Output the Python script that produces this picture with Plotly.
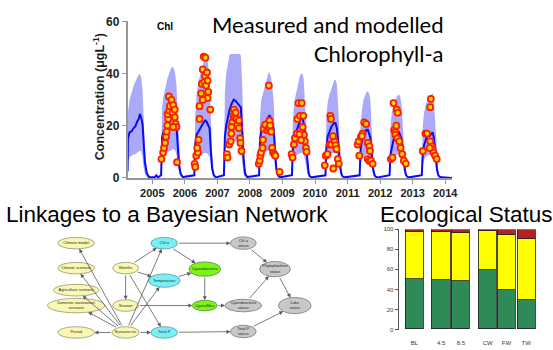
import math
import plotly.graph_objects as go

# ------------------------------------------------------------------
# DATA : modelled chlorophyll-a (median line + uncertainty band), per bloom season
# ------------------------------------------------------------------
bloom_t = [
    [2004.24, 2004.25, 2004.30, 2004.36, 2004.42, 2004.48, 2004.53, 2004.58, 2004.62, 2004.66, 2004.70, 2004.73, 2004.77, 2004.83, 2004.90],
    [2005.27, 2005.30, 2005.34, 2005.40, 2005.46, 2005.52, 2005.57, 2005.62, 2005.66, 2005.70, 2005.74, 2005.78, 2005.82, 2005.87, 2005.94],
    [2006.29, 2006.32, 2006.36, 2006.42, 2006.48, 2006.54, 2006.59, 2006.63, 2006.67, 2006.71, 2006.76, 2006.80, 2006.84, 2006.89, 2006.95],
    [2007.20, 2007.23, 2007.27, 2007.32, 2007.38, 2007.44, 2007.50, 2007.56, 2007.62, 2007.67, 2007.72, 2007.76, 2007.80, 2007.85, 2007.92],
    [2008.28, 2008.31, 2008.35, 2008.41, 2008.47, 2008.52, 2008.56, 2008.60, 2008.64, 2008.68, 2008.73, 2008.77, 2008.81, 2008.86, 2008.92],
    [2009.29, 2009.32, 2009.36, 2009.42, 2009.48, 2009.53, 2009.57, 2009.61, 2009.65, 2009.69, 2009.73, 2009.76, 2009.80, 2009.84, 2009.90],
    [2010.32, 2010.35, 2010.39, 2010.44, 2010.50, 2010.55, 2010.59, 2010.63, 2010.67, 2010.71, 2010.74, 2010.77, 2010.81, 2010.85, 2010.91],
    [2011.37, 2011.40, 2011.44, 2011.49, 2011.54, 2011.58, 2011.62, 2011.66, 2011.70, 2011.73, 2011.76, 2011.79, 2011.83, 2011.87, 2011.93],
    [2012.29, 2012.32, 2012.36, 2012.41, 2012.47, 2012.53, 2012.58, 2012.62, 2012.66, 2012.70, 2012.73, 2012.76, 2012.80, 2012.84, 2012.90],
    [2013.28, 2013.31, 2013.35, 2013.40, 2013.46, 2013.52, 2013.57, 2013.61, 2013.65, 2013.69, 2013.72, 2013.75, 2013.79, 2013.83, 2013.89],
]
bloom_model = [
    [2.5, 15, 17.5, 17.8, 19, 19.8, 21.5, 22.5, 24.5, 23, 20.5, 13, 6, 1.8, 0.3],
    [1, 15.5, 17.5, 18.5, 20, 21.5, 22.5, 23.5, 24, 22.5, 20, 12, 5, 1.5, 0.3],
    [1, 13, 16.5, 18, 19, 20.5, 21.5, 22, 21.5, 20.5, 19, 10, 3.5, 1, 0.2],
    [1, 16, 20, 23.5, 26.5, 28.5, 30, 29.5, 28.5, 28, 27, 18, 8, 1.5, 0.3],
    [1, 15, 18, 19.5, 20.5, 22, 23, 24, 23, 21.5, 18.5, 10, 3.5, 1, 0.2],
    [1, 12, 15.5, 17.5, 20, 21.5, 23, 23.5, 21, 17, 11, 6, 2, 0.6, 0.2],
    [1, 12, 16, 18, 19.5, 20.5, 21, 21, 19, 14, 8, 4.5, 1.5, 0.5, 0.2],
    [1, 11, 14, 16, 17.5, 18.5, 18.5, 17, 15.5, 11, 6, 3, 1, 0.4, 0.2],
    [1, 9, 12, 14.5, 16.5, 17.5, 17.5, 16.5, 15, 10.5, 6, 3, 1, 0.4, 0.2],
    [1, 9, 12.5, 14.5, 16.5, 16, 17, 17.5, 15.5, 11, 6, 3, 1, 0.4, 0.2],
]
bloom_upper = [
    [14, 25, 30, 33, 35, 37, 38.5, 39.5, 39.8, 38.5, 33, 24, 12, 3, 0.5],
    [6, 27, 31, 35, 38, 40, 42, 42.5, 42, 40, 36, 25, 12, 3, 0.3],
    [6, 24, 32, 37, 40, 43, 45.5, 46.5, 46.5, 44, 37, 24, 9, 2, 0.3],
    [5, 33, 40, 44, 47.5, 47.5, 47.5, 47.5, 47.5, 47.5, 47, 36, 18, 4, 0.5],
    [6, 24, 30, 33, 36, 38, 40, 40.5, 39, 36, 29, 15, 5, 1, 0.2],
    [5, 22, 29, 33, 37, 39, 40, 40, 38, 30, 20, 11, 4, 1, 0.2],
    [5, 24, 29, 32, 34, 36, 37.5, 37.5, 36, 28, 18, 10, 3, 0.8, 0.2],
    [5, 20, 26, 30, 31.5, 33, 33, 32.5, 30, 22, 13, 6, 2, 0.5, 0.2],
    [5, 20, 25, 28, 30, 31.5, 32, 31, 28, 21, 13, 6, 2, 0.5, 0.2],
    [5, 20, 25, 28, 30, 31, 32, 32.5, 30, 22, 13, 6, 2, 0.5, 0.2],
]
bloom_lower = [
    [2, 6, 8, 8.5, 9, 9.2, 9.5, 10, 10.5, 10, 8, 4, 1.5, 0.3, 0],
    [1, 7, 9, 9.5, 10, 10, 10.5, 11, 11, 10.5, 9, 5, 2, 0.5, 0],
    [1, 5, 7, 8, 8.5, 9, 9.5, 9.5, 9.5, 9, 8, 4.5, 1.5, 0.3, 0],
    [1, 9, 12, 13, 13.5, 14, 14, 14, 13.5, 13, 12, 6, 2, 0.3, 0],
    [1, 7, 9, 9.5, 10, 10, 10.5, 10.5, 10, 9.5, 8, 4, 1.5, 0.3, 0],
    [1, 6, 8, 8.5, 9, 9.5, 9.5, 9.5, 9, 7, 4.5, 2, 0.6, 0.2, 0],
    [1, 6, 8, 9, 9, 9.5, 9.5, 9.5, 9, 7, 4, 2, 0.5, 0.2, 0],
    [1, 5, 7, 8, 8.5, 9, 9, 8.5, 8, 6, 3.5, 1.5, 0.4, 0.1, 0],
    [1, 5, 7, 8, 8.5, 9, 9, 8.5, 8, 6, 3.5, 1.5, 0.4, 0.1, 0],
    [1, 5, 7, 8, 8.5, 9, 9, 8.5, 8, 6, 3.5, 1.5, 0.4, 0.1, 0],
]
offseason_t = [2005.07, 2005.12, 2005.17, 2014.21]
offseason_v = [0.2, 1.0, 0.2, 0.0]

# measured chlorophyll-a
meas_t = [
    2005.28, 2005.33, 2005.36, 2005.39, 2005.42, 2005.44, 2005.46, 2005.49, 2005.47, 2005.52, 2005.54, 2005.51,
    2005.59, 2005.64, 2005.62, 2005.69, 2005.69, 2005.72, 2005.74, 2005.64, 2005.76,
    2006.30, 2006.32, 2006.35, 2006.40, 2006.38, 2006.42, 2006.45, 2006.45, 2006.50, 2006.52, 2006.55, 2006.58,
    2006.63, 2006.60, 2006.62, 2006.65, 2006.68, 2006.70, 2006.72, 2006.70, 2006.78, 2006.55,
    2007.29, 2007.31, 2007.36, 2007.41, 2007.43, 2007.46, 2007.49, 2007.51, 2007.53, 2007.56, 2007.59, 2007.61,
    2007.66, 2007.66, 2007.70, 2007.71, 2007.74, 2007.43,
    2008.27, 2008.30, 2008.32, 2008.34, 2008.39, 2008.40, 2008.42, 2008.47, 2008.53, 2008.58, 2008.58, 2008.60,
    2008.62, 2008.65, 2008.68, 2008.71, 2008.75, 2008.78, 2008.91,
    2009.28, 2009.31, 2009.35, 2009.38, 2009.44, 2009.46, 2009.49, 2009.59, 2009.54, 2009.64, 2009.62, 2009.66,
    2009.69, 2009.72, 2009.74, 2009.52, 2009.57,
    2010.30, 2010.33, 2010.38, 2010.47, 2010.49, 2010.45, 2010.50, 2010.60, 2010.63, 2010.70, 2010.73, 2010.56,
    2010.55, 2010.66,
    2011.31, 2011.34, 2011.36, 2011.41, 2011.46, 2011.51, 2011.57, 2011.62, 2011.67, 2011.62, 2011.67, 2011.72,
    2011.77, 2011.69, 2011.44,
    2012.33, 2012.38, 2012.43, 2012.46, 2012.47, 2012.53, 2012.59, 2012.63, 2012.68, 2012.73, 2012.79, 2012.41,
    2012.51, 2012.54, 2012.50,
    2013.31, 2013.39, 2013.44, 2013.54, 2013.59, 2013.61, 2013.64, 2013.69, 2013.74, 2013.56, 2013.54, 2013.52,
]
meas_v = [
    7.2, 9.7, 11.5, 13.4, 15.8, 17.7, 20.1, 22.6, 24.4, 25.7, 27.5, 31.2,
    29.9, 27.9, 25.0, 26.2, 23.2, 20.7, 19.5, 19.5, 6.0,
    5.4, 4.2, 8.5, 9.7, 11.5, 14.6, 22.6, 27.5, 32.4, 36.1, 41.6, 46.5,
    46.1, 36.7, 39.1, 35.4, 40.4, 37.3, 33.0, 30.6, 26.2, 29.9,
    9.1, 7.8, 12.8, 14.0, 17.0, 21.3, 23.8, 26.2, 23.2, 25.0, 22.6, 20.1,
    22.0, 19.1, 15.2, 13.4, 10.3, 19.5,
    5.4, 6.6, 8.5, 9.7, 11.5, 14.6, 18.9, 20.4, 18.3, 35.4, 19.1, 22.0,
    20.1, 17.7, 11.5, 9.7, 9.1, 8.5, 2.3,
    9.1, 7.8, 12.8, 15.2, 17.0, 22.6, 28.7, 28.7, 23.8, 23.8, 19.5, 16.5,
    14.0, 11.5, 10.0, 16.7, 14.5,
    4.8, 8.5, 9.1, 23.8, 22.6, 12.8, 12.8, 14.0, 12.5, 7.2, 5.4, 3.6,
    16.0, 11.0,
    12.8, 14.0, 8.5, 15.8, 17.0, 21.3, 20.7, 13.4, 12.1, 7.2, 6.5, 6.6,
    5.4, 10.3, 16.0,
    7.2, 7.8, 18.3, 17.5, 16.5, 15.2, 14.0, 11.5, 9.1, 6.6, 5.5, 28.7,
    26.2, 25.0, 20.0,
    10.3, 17.0, 17.0, 14.0, 12.1, 10.9, 9.7, 8.5, 7.2, 30.3, 27.1, 11.5,
]
year_ticks = [2005, 2006, 2007, 2008, 2009, 2010, 2011, 2012, 2013, 2014]
conc_ticks = [0, 20, 40, 60]

# ------------------------------------------------------------------
# DATA : Bayesian network
# ------------------------------------------------------------------
node_ids = ["cm", "cs", "ag", "dw", "per", "mon", "sea", "scn", "chl", "tmp", "tp",
            "cya", "cmx", "chls", "phy", "cyas", "lake", "tps"]
node_labels = ["Climate model", "Climate scenario", "Agriculture scenario",
               "Domestic wastewater<br>scenario", "Period", "Months", "Season", "Scenario no.",
               "Chl a", "Temperature", "Total P", "Cyanobacteria", "CyanoMax",
               "Chl a<br>status", "Phytoplankton<br>status", "Cyanobacteria<br>status",
               "Lake<br>status", "Total P<br>status"]
node_kind = ["scen", "scen", "scen", "scen", "scen", "scen", "scen", "scen",
             "obs", "obs", "obs", "cyano", "cyano",
             "stat", "stat", "stat", "stat", "stat"]
edges = [
    ("scn", "cm"), ("scn", "cs"), ("scn", "ag"), ("scn", "dw"), ("scn", "per"),
    ("scn", "chl"), ("scn", "tmp"), ("scn", "tp"),
    ("mon", "chl"), ("mon", "tmp"), ("mon", "sea"), ("mon", "tp"),
    ("sea", "cmx"), ("chl", "chls"), ("chl", "cya"), ("tmp", "cya"), ("cya", "cmx"),
    ("cmx", "cyas"), ("chls", "phy"), ("cyas", "phy"), ("phy", "lake"),
    ("tp", "tps"), ("tps", "lake"),
]

# ------------------------------------------------------------------
# DATA : ecological status (% of outcomes)
# ------------------------------------------------------------------
status_cats = ["BL", "4.5", "8.5", "CW", "FW", "TW"]
status_good = [49.8, 48.9, 47.9, 59.4, 39.0, 29.4]
status_moderate = [47.0, 47.9, 47.9, 39.0, 55.2, 60.7]
status_poor = [3.2, 3.2, 4.2, 1.6, 5.8, 9.9]

# ------------------------------------------------------------------
# LAYOUT (positions / sizes / styles)
# ------------------------------------------------------------------
W, H = 553, 350
# network node placement, in page pixels (x, y, width, height)
node_geom = {
    "cm": (77, 246, 37, 12), "cs": (77, 272, 37, 12), "ag": (77, 295, 46, 12),
    "dw": (77, 311, 58, 15), "per": (77, 339, 37, 12),
    "mon": (127, 272, 26, 12), "sea": (127, 311, 26, 12), "scn": (127, 339, 27, 12),
    "chl": (166, 246, 27, 12), "tmp": (166, 285, 32, 14), "tp": (166, 339, 27, 12),
    "cya": (207, 273, 32, 15), "cmx": (207, 311, 25, 11),
    "chls": (246, 246, 26, 13), "phy": (278, 273, 31, 16), "cyas": (246, 311, 37, 13),
    "lake": (298, 311, 33, 17), "tps": (246, 338, 26, 13),
}
kind_style = {
    "scen": ("rgb(250,246,180)", "rgb(150,150,110)"),
    "obs": ("rgb(120,240,245)", "rgb(90,150,160)"),
    "cyano": ("rgb(125,245,20)", "rgb(80,140,60)"),
    "stat": ("rgb(200,200,200)", "rgb(120,120,120)"),
}
bar_pos = [0, 1.35, 2.35, 3.7, 4.65, 5.65]

fig = go.Figure()

# uncertainty band
bx, by = [], []
for t, up, lo in zip(bloom_t, bloom_upper, bloom_lower):
    bx += t + t[::-1] + [None]
    by += up + lo[::-1] + [None]
fig.add_trace(go.Scatter(x=bx, y=by, mode="lines", fill="toself",
                         fillcolor="rgb(170,170,248)", line=dict(width=0),
                         hoverinfo="skip", xaxis="x", yaxis="y"))

# modelled line
pts = []
for t, v in zip(bloom_t, bloom_model):
    pts += list(zip(t, v))
pts += list(zip(offseason_t, offseason_v))
pts.sort()
fig.add_trace(go.Scatter(x=[p[0] for p in pts], y=[p[1] for p in pts], mode="lines",
                         line=dict(color="rgb(10,10,245)", width=2), xaxis="x", yaxis="y"))

# measured
fig.add_trace(go.Scatter(x=meas_t, y=meas_v, mode="markers",
                         marker=dict(size=6, color="rgb(255,215,0)",
                                     line=dict(color="rgb(255,30,0)", width=1.8)),
                         xaxis="x", yaxis="y"))

# network: ellipses, edges, labels
shapes = []
annotations = []


def boundary(nid, tx, ty):
    cx, cy, w, h = node_geom[nid]
    dx, dy = tx - cx, ty - cy
    s = 1.0 / math.sqrt((dx / (w / 2)) ** 2 + (dy / (h / 2)) ** 2)
    return cx + dx * s, cy + dy * s


for a, b in edges:
    ax_, ay_ = node_geom[a][:2]
    bx_, by_ = node_geom[b][:2]
    sx, sy = boundary(a, bx_, by_)
    ex, ey = boundary(b, ax_, ay_)
    annotations.append(dict(x=ex, y=ey, ax=sx, ay=sy, xref="x2", yref="y2",
                            axref="x2", ayref="y2", text="", showarrow=True,
                            arrowhead=2, arrowsize=1.0, arrowwidth=0.8,
                            arrowcolor="rgb(90,90,90)", standoff=0))

for nid, kind in zip(node_ids, node_kind):
    cx, cy, w, h = node_geom[nid]
    fillc, linec = kind_style[kind]
    shapes.append(dict(type="circle", xref="x2", yref="y2", x0=cx - w / 2, x1=cx + w / 2,
                       y0=cy - h / 2, y1=cy + h / 2, fillcolor=fillc,
                       line=dict(color=linec, width=0.8), layer="below"))

fig.add_trace(go.Scatter(x=[node_geom[n][0] for n in node_ids],
                         y=[node_geom[n][1] for n in node_ids],
                         text=node_labels, mode="text", textposition="middle center",
                         textfont=dict(size=4, color="rgb(40,40,40)", family="Liberation Sans"),
                         xaxis="x2", yaxis="y2"))

# ecological status bars
bar_line = dict(color="rgb(30,30,30)", width=0.8)
fig.add_trace(go.Bar(x=bar_pos, y=status_good, width=0.92, marker=dict(color="rgb(46,139,87)", line=bar_line),
                     xaxis="x3", yaxis="y3"))
fig.add_trace(go.Bar(x=bar_pos, y=status_moderate, width=0.92, marker=dict(color="rgb(255,255,0)", line=bar_line),
                     xaxis="x3", yaxis="y3"))
fig.add_trace(go.Bar(x=bar_pos, y=status_poor, width=0.92, marker=dict(color="rgb(178,34,34)", line=bar_line),
                     xaxis="x3", yaxis="y3"))


def px(x):
    return x / W


def py(y):
    return 1 - y / H


txt = dict(xref="paper", yref="paper", showarrow=False)
annotations += [
    dict(text="<b>Chl</b>", x=px(157), y=py(20), xanchor="left", yanchor="middle",
         font=dict(size=10, family="Liberation Sans", color="black"), **txt),
    dict(text="Measured and modelled<br>Chlorophyll-a", x=px(451), y=py(33), xanchor="right",
         yanchor="middle", align="right",
         font=dict(size=22, family="Lato", color="black"), **txt),
    dict(text="<b>Concentration (μgL<sup>-1</sup>)</b>", x=px(100), y=py(93), textangle=-90,
         xanchor="center", yanchor="middle",
         font=dict(size=12.5, family="Liberation Sans", color="rgb(30,30,30)"), **txt),
    dict(text="Linkages to a Bayesian Network", x=px(4), y=py(216), xanchor="left", yanchor="middle",
         font=dict(size=22.5, family="Liberation Sans", color="black"), **txt),
    dict(text="Ecological Status", x=px(382), y=py(216), xanchor="left", yanchor="middle",
         font=dict(size=22.5, family="Liberation Sans", color="black"), **txt),
]

axis_grey = "rgb(150,150,150)"
fig.update_layout(
    width=W, height=H, margin=dict(l=0, r=0, t=0, b=0),
    paper_bgcolor="white", plot_bgcolor="rgba(0,0,0,0)",
    showlegend=False, barmode="stack", bargap=0,
    shapes=shapes, annotations=annotations,
    xaxis=dict(domain=[px(129), px(457)], range=[2004.24, 2014.21], anchor="y",
               tickvals=year_ticks, ticks="outside", ticklen=4, tickcolor=axis_grey,
               showline=True, linecolor=axis_grey, linewidth=1.5, showgrid=False, zeroline=False,
               tickfont=dict(size=11, family="Liberation Sans", color="rgb(30,30,30)", weight="bold")),
    yaxis=dict(domain=[py(178), py(15)], range=[0, 60], anchor="x",
               tickvals=conc_ticks, ticks="outside", ticklen=4, tickcolor=axis_grey,
               showline=True, linecolor=axis_grey, linewidth=1.5, showgrid=False, zeroline=False,
               tickfont=dict(size=12, family="Liberation Sans", color="rgb(30,30,30)", weight="bold")),
    xaxis2=dict(domain=[0, 1], range=[0, W], anchor="y2", visible=False),
    yaxis2=dict(domain=[0, 1], range=[H, 0], anchor="x2", visible=False),
    xaxis3=dict(domain=[px(403), px(545)], range=[-0.8, 6.3], anchor="y3",
                tickvals=bar_pos, ticktext=status_cats, ticks="", showline=False,
                showgrid=False, zeroline=False, ticklabelstandoff=8,
                tickfont=dict(size=6, family="Liberation Sans", color="rgb(60,60,60)")),
    yaxis3=dict(domain=[py(336), py(231.5)], range=[0, 100], anchor="x3",
                tickvals=[0, 20, 40, 60, 80, 100], ticks="outside", ticklen=3,
                tickcolor="rgb(80,80,80)", showline=True, linecolor="rgb(80,80,80)", linewidth=1,
                showgrid=False, zeroline=False,
                tickfont=dict(size=6, family="Liberation Sans", color="rgb(60,60,60)")),
)

fig.write_html("out.html")
